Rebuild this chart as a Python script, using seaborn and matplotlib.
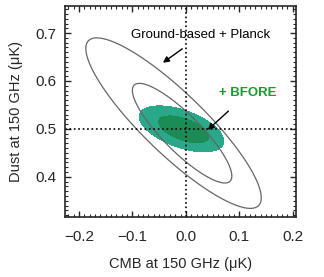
import numpy as np
import matplotlib
matplotlib.use("Agg")
import matplotlib.pyplot as plt
import seaborn as sns
from matplotlib.ticker import MultipleLocator

# =====================================
# Data
# each contour = ellipse: centre, half-extent in x / y, correlation
# index 0 = inner (68%), index 1 = outer (95%)
# =====================================

gray_cx = [-0.007, -0.023]
gray_cy = [0.491, 0.512]
gray_wx = [0.093, 0.164]
gray_wy = [0.104, 0.178]
gray_rho = [-0.86, -0.875]

green_cx = [-0.004, -0.008]
green_cy = [0.499, 0.500]
green_wx = [0.047, 0.079]
green_wy = [0.028, 0.048]
green_rho = [-0.55, -0.53]

x_ticks = [-0.2, -0.1, 0.0, 0.1, 0.2]
y_ticks = [0.4, 0.5, 0.6, 0.7]

label_gb = "Ground-based + Planck"
label_bf = "+ BFORE"

# =====================================
# Style
# =====================================

sns.set_style("ticks")
plt.rcParams["font.family"] = ["Liberation Sans", "DejaVu Sans"]

fig = plt.figure(figsize=(3.24, 2.77), dpi=100)
ax = fig.add_axes([0.2006, 0.2166, 0.713, 0.7625])

xx, yy = np.meshgrid(np.linspace(-0.23, 0.21, 400), np.linspace(0.31, 0.76, 400))


def quad(cx, cy, wx, wy, rho):
    u = (xx - cx) / wx
    v = (yy - cy) / wy
    return (u**2 - 2 * rho * u * v + v**2) / (1 - rho**2)


# =====================================
# Ground-based + Planck (gray outlines)
# =====================================

for i in range(2):
    q = quad(gray_cx[i], gray_cy[i], gray_wx[i], gray_wy[i], gray_rho[i])
    ax.contour(xx, yy, q, levels=[1.0], colors="#666666", linewidths=0.9)

# =====================================
# + BFORE (filled green)
# =====================================

green_colors = ["#1b8c55", "#2aa88a"]
for i in [1, 0]:
    q = quad(green_cx[i], green_cy[i], green_wx[i], green_wy[i], green_rho[i])
    ax.contourf(xx, yy, q, levels=[0, 1.0], colors=[green_colors[i]])

# crosshair
ax.axvline(0.0, color="black", linestyle=":", linewidth=1.2)
ax.axhline(0.5, color="black", linestyle=":", linewidth=1.2)

# =====================================
# Annotations
# =====================================

ax.annotate(
    label_gb,
    xy=(-0.043, 0.638), xytext=(0.028, 0.695),
    ha="center", va="center", fontsize=9.5, color="black",
    arrowprops=dict(arrowstyle="-|>", color="black", lw=1.0,
                    mutation_scale=9, shrinkA=5, shrinkB=0),
)

ax.annotate(
    label_bf,
    xy=(0.041, 0.498), xytext=(0.116, 0.574),
    ha="center", va="center", fontsize=9.5, color="#1a9a2a",
    fontweight="bold",
    arrowprops=dict(arrowstyle="-|>", color="black", lw=1.0,
                    mutation_scale=9, shrinkA=9, shrinkB=0),
)

# =====================================
# Axes
# =====================================

ax.set_xlim(-0.226, 0.206)
ax.set_ylim(0.316, 0.757)
ax.set_xticks(x_ticks)
ax.set_yticks(y_ticks)
ax.xaxis.set_minor_locator(MultipleLocator(0.01))
ax.yaxis.set_minor_locator(MultipleLocator(0.01))

ax.tick_params(which="both", direction="in", top=True, right=True,
               labelsize=11, width=1.0)
ax.tick_params(which="major", length=4)
ax.tick_params(which="minor", length=2, width=0.8)
ax.tick_params(axis="x", which="major", pad=9)
ax.tick_params(axis="y", which="major", pad=6)

for s in ax.spines.values():
    s.set_linewidth(1.2)

ax.set_xlabel("CMB at 150 GHz (\u03bcK)", fontsize=10.5, labelpad=10)
ax.set_ylabel("Dust at 150 GHz (\u03bcK)", fontsize=10.5, labelpad=9)

fig.savefig("out.png", dpi=100)
